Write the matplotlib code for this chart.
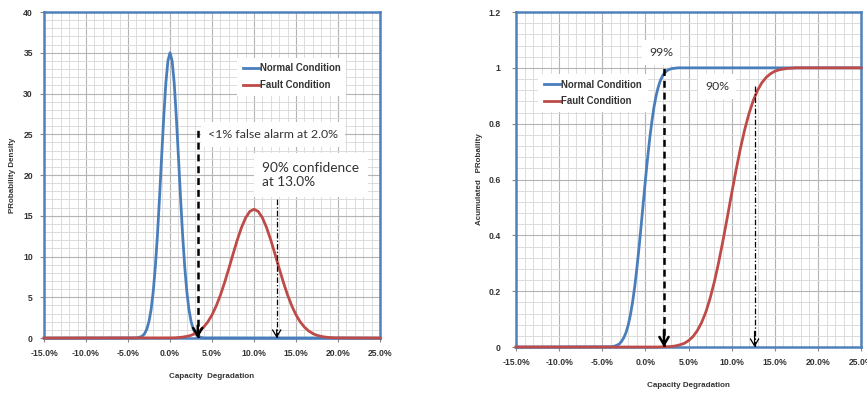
import matplotlib
matplotlib.use('Agg')
import matplotlib.pyplot as plt
from matplotlib.ticker import MultipleLocator, FixedLocator

plt.rcParams['font.family'] = ['Liberation Sans', 'DejaVu Sans']
plt.rcParams['lines.scale_dashes'] = False

# capacity degradation in percent
normal_x = [-15, -4, -3.75, -3.5, -3.25, -3, -2.75, -2.5, -2.25, -2, -1.75, -1.5, -1.25, -1,
            -0.75, -0.5, -0.25, 0, 0.25, 0.5, 0.75, 1, 1.25, 1.5, 1.75, 2, 2.25, 2.5, 2.75,
            3, 3.25, 3.5, 3.75, 4, 25]
normal_pdf = [0, 0.02, 0.06, 0.14, 0.29, 0.59, 1.13, 2.06, 3.52, 5.71, 8.73, 12.61, 17.23, 22.24,
              27.12, 31.25, 34.02, 35.0, 34.02, 31.25, 27.12, 22.24, 17.23, 12.61, 8.73, 5.71,
              3.52, 2.06, 1.13, 0.59, 0.29, 0.14, 0.06, 0.02, 0]
normal_cdf = [0, 0.001, 0.002, 0.004, 0.007, 0.012, 0.021, 0.034, 0.052, 0.078, 0.114, 0.159,
              0.214, 0.280, 0.354, 0.434, 0.517, 0.599, 0.677, 0.748, 0.809, 0.861, 0.902,
              0.933, 0.956, 0.972, 0.983, 0.990, 0.994, 0.997, 0.998, 0.999, 1.0, 1.0, 1.0]

fault_x = [-15, 0, 0.5, 1, 1.5, 2, 2.5, 3, 3.5, 4, 4.5, 5, 5.5, 6, 6.5, 7, 7.5, 8, 8.5, 9, 9.5,
           10, 10.5, 11, 11.5, 12, 12.5, 13, 13.5, 14, 14.5, 15, 15.5, 16, 16.5, 17, 17.5,
           18, 18.5, 19, 19.5, 20, 25]
fault_pdf = [0, 0.02, 0.03, 0.06, 0.11, 0.20, 0.33, 0.55, 0.87, 1.34, 1.98, 2.84, 3.94, 5.27,
             6.82, 8.52, 10.29, 12.01, 13.54, 14.75, 15.53, 15.8, 15.53, 14.75, 13.54, 12.01,
             10.29, 8.52, 6.82, 5.27, 3.94, 2.84, 1.98, 1.34, 0.87, 0.55, 0.33, 0.20, 0.11,
             0.06, 0.03, 0.02, 0]
fault_cdf = [0, 0, 0, 0, 0, 0.001, 0.001, 0.002, 0.004, 0.008, 0.013, 0.023, 0.037, 0.058,
             0.087, 0.125, 0.175, 0.235, 0.305, 0.383, 0.466, 0.551, 0.633, 0.710, 0.778,
             0.836, 0.883, 0.920, 0.947, 0.966, 0.979, 0.988, 0.993, 0.996, 0.998, 0.999,
             1, 1, 1, 1, 1, 1, 1]

x_ticks = [-15, -10, -5, 0, 5, 10, 15, 20, 25]
x_tick_labels = ['-15.0%', '-10.0%', '-5.0%', '0.0%', '5.0%', '10.0%', '15.0%', '20.0%', '25.0%']
cdf_ticks = [0, 0.2, 0.4, 0.6, 0.8, 1.0, 1.2]
cdf_tick_labels = ['0', '0.2', '0.4', '0.6', '0.8', '1', '1.2']

# threshold markers (x position, top of arrow)
pdf_alarm = (3.3, 25.6)
pdf_conf = (12.7, 17.0)
cdf_alarm = (2.15, 1.005)
cdf_conf = (12.65, 0.935)

blue = '#4a7ebb'
red = '#be4b48'
frame = '#4f81bd'
txt = '#333333'
note_font = ['Lato', 'DejaVu Sans']

fig = plt.figure(figsize=(8.67, 3.93), dpi=100)
ax1 = fig.add_axes([0.0508, 0.1399, 0.3875, 0.8295])
ax2 = fig.add_axes([0.5952, 0.117, 0.398, 0.8524])


def style_axes(ax, ymax, ymajor, yminor):
    ax.set_xlim(-15, 25)
    ax.set_ylim(0, ymax)
    ax.xaxis.set_major_locator(FixedLocator(x_ticks))
    ax.xaxis.set_minor_locator(MultipleLocator(1))
    ax.yaxis.set_major_locator(MultipleLocator(ymajor))
    ax.yaxis.set_minor_locator(MultipleLocator(yminor))
    ax.grid(which='major', color='#b4b4b4', linewidth=0.8)
    ax.grid(which='minor', color='#dcdcdc', linewidth=0.7)
    ax.set_axisbelow(True)
    for s in ax.spines.values():
        s.set_color(frame)
        s.set_linewidth(1.8)
    ax.tick_params(which='major', length=3, color='#888888', labelsize=6.2, pad=5)
    ax.tick_params(which='minor', length=0)
    ax.set_xticklabels(x_tick_labels, fontweight='bold', color=txt)
    for t in ax.get_yticklabels():
        t.set_fontweight('bold')
        t.set_color(txt)


def marker(ax, x, top, dashes, lw, head):
    ax.plot([x, x], [0, top], color='black', linewidth=lw, dashes=dashes, zorder=6)
    ax.annotate('', xy=(x, 0), xytext=(x, top * 0.06),
                arrowprops=dict(arrowstyle='->,head_length=%.2f,head_width=%.2f' % (head, head * 0.6),
                                color='black', lw=lw, shrinkA=0, shrinkB=0),
                zorder=6, annotation_clip=False)


def add_legend(ax, anchor):
    leg = ax.legend(loc='upper left', bbox_to_anchor=anchor, frameon=True, fancybox=False,
                    edgecolor='none', framealpha=1, handlelength=1.7, handletextpad=0.1,
                    labelspacing=0.7, borderpad=0.6, prop=dict(size=6.9, weight='bold'))
    for t in leg.get_texts():
        t.set_color(txt)


# probability density
ax1.plot(normal_x, normal_pdf, color=blue, linewidth=2, label='Normal Condition', zorder=3, clip_on=False)
ax1.plot(fault_x, fault_pdf, color=red, linewidth=2, label='Fault Condition', zorder=3, clip_on=False)
style_axes(ax1, 40, 5, 1)
marker(ax1, pdf_alarm[0], pdf_alarm[1], (5, 3.5), 1.8, 0.55)
marker(ax1, pdf_conf[0], pdf_conf[1], (4, 1.5, 1, 1.5), 0.9, 0.5)
ax1.text(4.5, 25.0, '<1% false alarm at 2.0%', fontsize=8.9, color=txt, family=note_font,
         ha='left', va='center', bbox=dict(facecolor='white', edgecolor='none', pad=5), zorder=5)
ax1.text(11.0, 20.0, '90% confidence\nat 13.0%', fontsize=9.8, color=txt, family=note_font,
         ha='left', va='center', linespacing=1.25,
         bbox=dict(facecolor='white', edgecolor='none', pad=6), zorder=7)
add_legend(ax1, (0.56, 0.875))
ax1.set_xlabel('Capacity  Degradation', fontsize=5.8, fontweight='bold', color=txt, labelpad=11)
ax1.set_ylabel('PRobability Density', fontsize=5.8, fontweight='bold', color=txt, labelpad=5)

# accumulated probability
ax2.plot(normal_x, normal_cdf, color=blue, linewidth=2, label='Normal Condition', zorder=3, clip_on=False)
ax2.plot(fault_x, fault_cdf, color=red, linewidth=2, label='Fault Condition', zorder=3, clip_on=False)
style_axes(ax2, 1.2, 0.2, 0.04)
ax2.set_yticks(cdf_ticks)
ax2.set_yticklabels(cdf_tick_labels, fontweight='bold', color=txt)
ax2.tick_params(axis='y', pad=8)
marker(ax2, cdf_alarm[0], cdf_alarm[1], (5, 3.5), 1.8, 0.55)
marker(ax2, cdf_conf[0], cdf_conf[1], (4, 1.5, 1, 1.5), 0.9, 0.5)
ax2.text(1.8, 1.054, '99%', fontsize=8.8, color=txt, family=note_font, ha='center', va='center',
         bbox=dict(facecolor='white', edgecolor='none', pad=5), zorder=5)
ax2.text(8.3, 0.933, '90%', fontsize=8.8, color=txt, family=note_font, ha='center', va='center',
         bbox=dict(facecolor='white', edgecolor='none', pad=5), zorder=5)
add_legend(ax2, (0.05, 0.83))
ax2.set_xlabel('Capacity Degradation', fontsize=5.8, fontweight='bold', color=txt, labelpad=11)
ax2.set_ylabel('Acumulated   PRobaility', fontsize=5.8, fontweight='bold', color=txt, labelpad=4)

fig.savefig('out.png', dpi=100)
